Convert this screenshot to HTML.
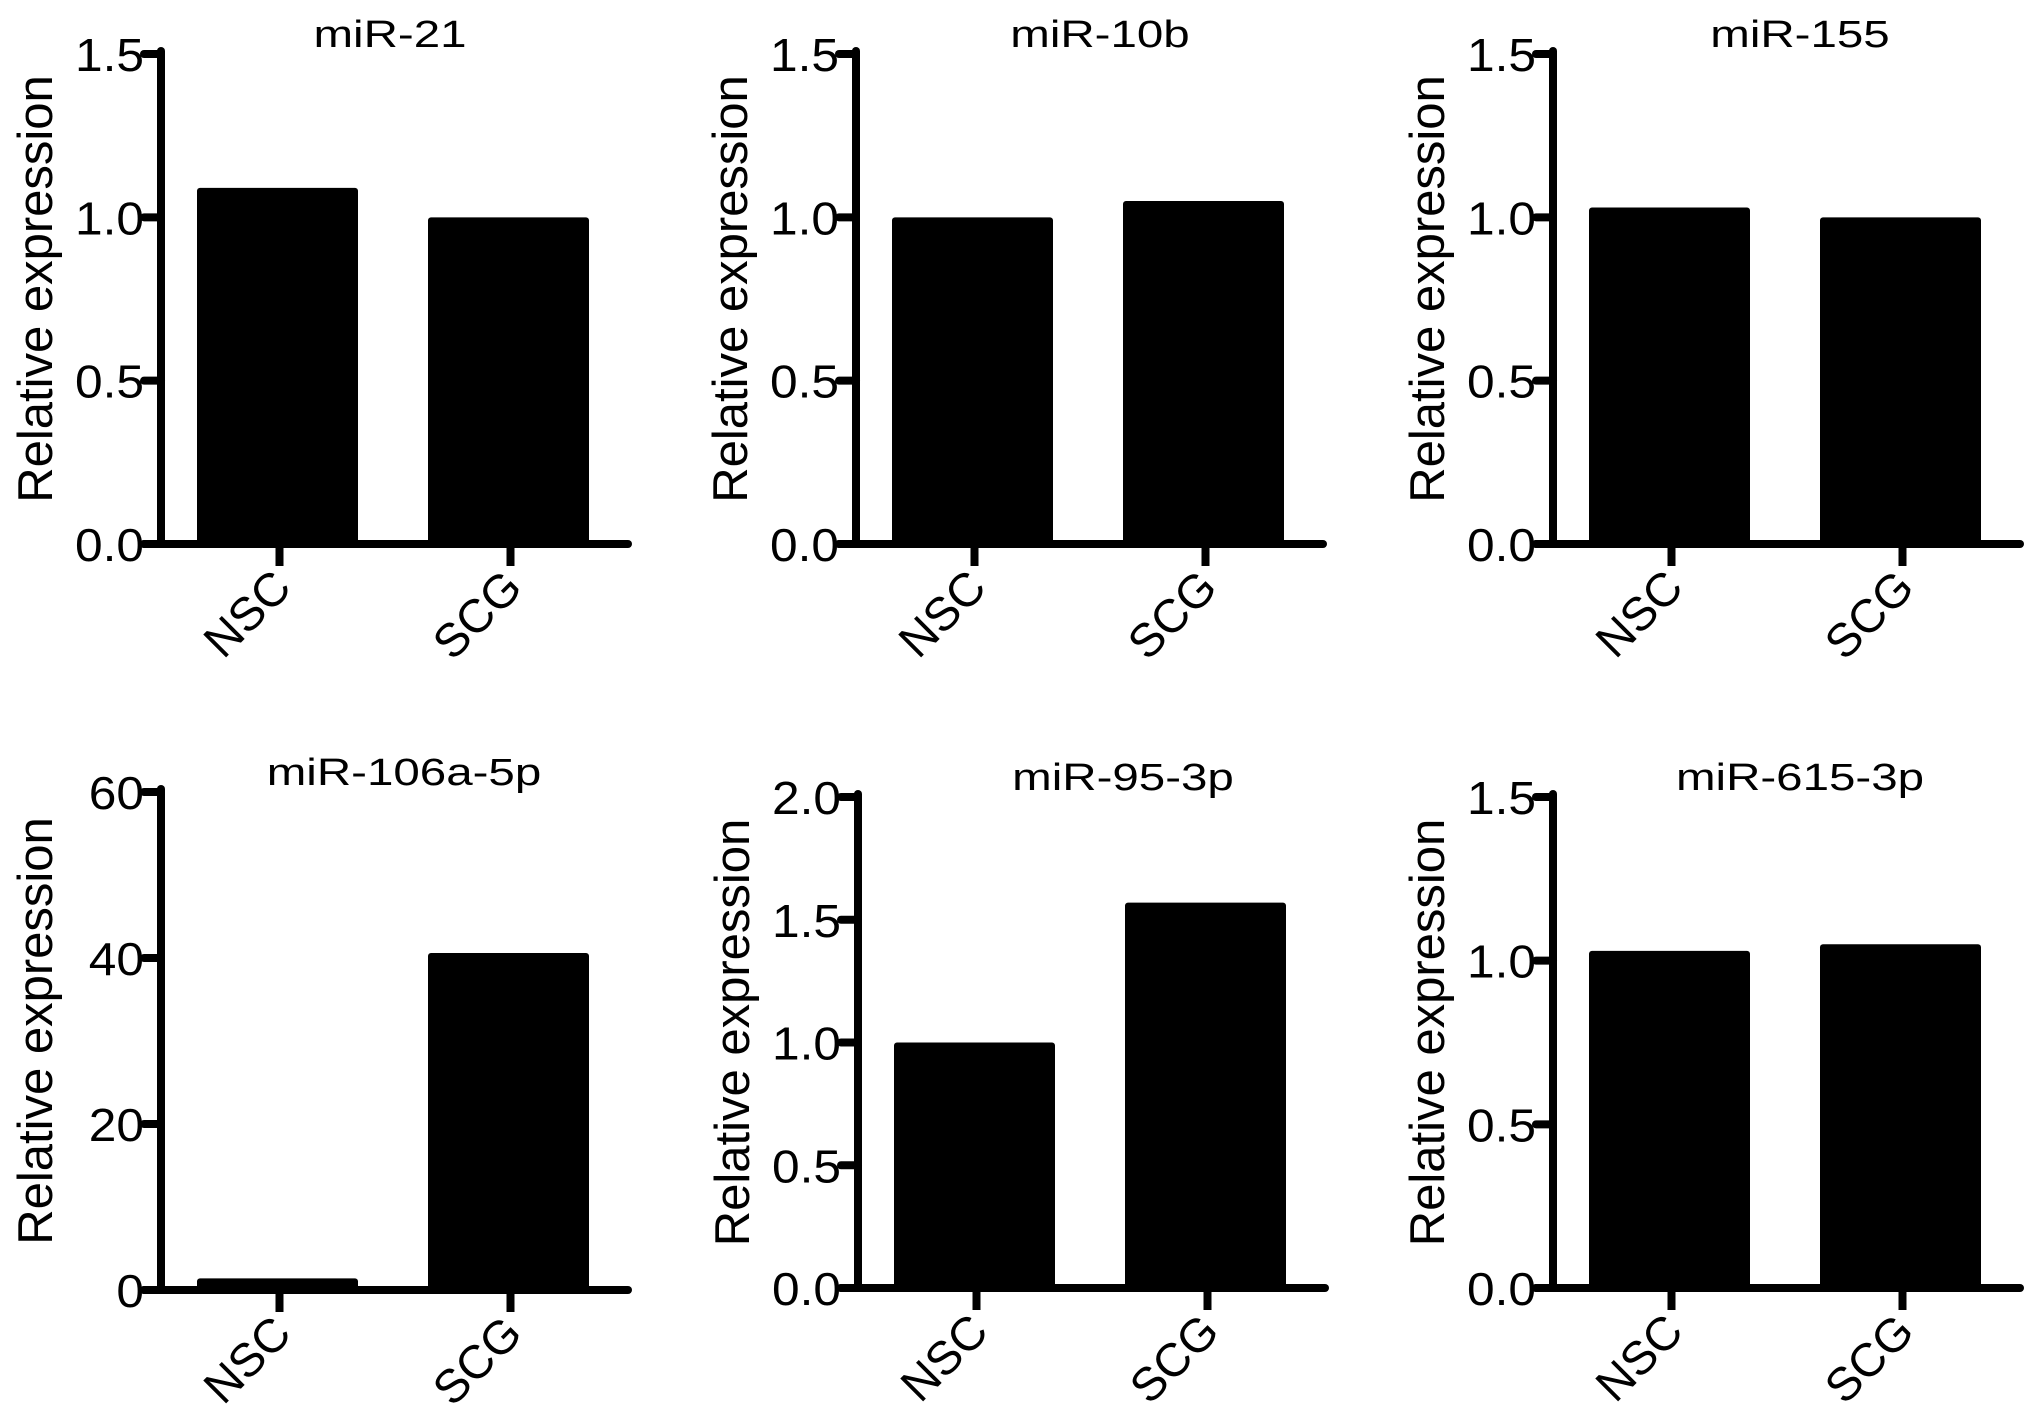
<!DOCTYPE html>
<html>
<head>
<meta charset="utf-8">
<style>
  html, body { margin: 0; padding: 0; background: #fff; }
  svg { display: block; }
  text { font-family: "Liberation Sans", Arial, sans-serif; fill: #000; }
</style>
</head>
<body>
<svg id="fig" width="2031" height="1419" viewBox="0 0 2031 1419" xmlns="http://www.w3.org/2000/svg"></svg>
<script>
// Data
const categories = ["NSC", "SCG"];
const titles = ["miR-21", "miR-10b", "miR-155", "miR-106a-5p", "miR-95-3p", "miR-615-3p"];
const nscValues = [1.09, 1.0, 1.03, 1.4, 1.0, 1.03];
const scgValues = [1.0, 1.05, 1.0, 40.6, 1.57, 1.05];
const yMaxes = [1.5, 1.5, 1.5, 60, 2.0, 1.5];
const yTickLabels = [
  ["0.0", "0.5", "1.0", "1.5"],
  ["0.0", "0.5", "1.0", "1.5"],
  ["0.0", "0.5", "1.0", "1.5"],
  ["0", "20", "40", "60"],
  ["0.0", "0.5", "1.0", "1.5", "2.0"],
  ["0.0", "0.5", "1.0", "1.5"]
];
const yTickValues = [
  [0, 0.5, 1.0, 1.5],
  [0, 0.5, 1.0, 1.5],
  [0, 0.5, 1.0, 1.5],
  [0, 20, 40, 60],
  [0, 0.5, 1.0, 1.5, 2.0],
  [0, 0.5, 1.0, 1.5]
];

// Layout
const layout = [
  { ax: 161, top: 54, bot: 544, tdx: 229 },
  { ax: 856, top: 54, bot: 544, tdx: 244 },
  { ax: 1553, top: 54, bot: 544, tdx: 247 },
  { ax: 161, top: 792, bot: 1290, tdx: 243 },
  { ax: 858, top: 797, bot: 1288, tdx: 265 },
  { ax: 1553, top: 797, bot: 1288, tdx: 247 }
];

const NS = "http://www.w3.org/2000/svg";
const svg = document.getElementById("fig");
function mk(tag, attrs, parent) {
  const e = document.createElementNS(NS, tag);
  for (const k in attrs) e.setAttribute(k, attrs[k]);
  (parent || svg).appendChild(e);
  return e;
}

titles.forEach((title, i) => {
  const L = layout[i];
  const g = mk("g", {});
  
  
  const yScale = v => L.bot - (v / yMaxes[i]) * (L.bot - L.top);
  const xBand = [L.ax + 36, L.ax + 267];
  const barW = 161;
  const vals = [nscValues[i], scgValues[i]];

  vals.forEach((v, j) => {
    const y = yScale(v);
    const r = mk("rect", { x: xBand[j], y: y, width: barW, height: L.bot - y, rx: 3, fill: "#000" }, g);
    
    
  });

  const ya = mk("line", { x1: L.ax, y1: L.top - 3, x2: L.ax, y2: L.bot, stroke: "#000", "stroke-width": 8, "stroke-linecap": "round" }, g);
  
  
  const xa = mk("line", { x1: L.ax - 17, y1: L.bot, x2: L.ax + 467, y2: L.bot, stroke: "#000", "stroke-width": 8, "stroke-linecap": "round" }, g);
  
  

  yTickValues[i].forEach((tv, k) => {
    const y = yScale(tv);
    const t = mk("line", { x1: L.ax - 17, y1: y, x2: L.ax, y2: y, stroke: "#000", "stroke-width": 8, "stroke-linecap": "round" }, g);
    
    
    const lab = mk("text", { transform: `translate(${L.ax - 17},${y + 17}) scale(1.08,1)`, "font-size": 46, "text-anchor": "end" }, g);
    lab.textContent = yTickLabels[i][k];
    
    
  });

  categories.forEach((c, j) => {
    const cx = xBand[j] + barW / 2 + 2;
    const t = mk("line", { x1: cx, y1: L.bot, x2: cx, y2: L.bot + 22, stroke: "#000", "stroke-width": 8 }, g);
    
    
    const lab = mk("text", { transform: `translate(${cx + 14},${L.bot + 46}) rotate(-45)`, "font-size": 47, "text-anchor": "end" }, g);
    lab.textContent = c;
    
    
  });

  const ymid = (L.top + L.bot) / 2 - 10;
  const yt = mk("text", { transform: `translate(${L.ax - 109},${ymid}) rotate(-90)`, "font-size": 49, "text-anchor": "middle" }, g);
  yt.textContent = "Relative expression";
  
  

  const tt = mk("text", { transform: `translate(${L.ax + L.tdx},${L.top - 7}) scale(1.25,1)`, "font-size": 38, "text-anchor": "middle" }, g);
  tt.textContent = title;
  
  
});
</script>
</body>
</html>
